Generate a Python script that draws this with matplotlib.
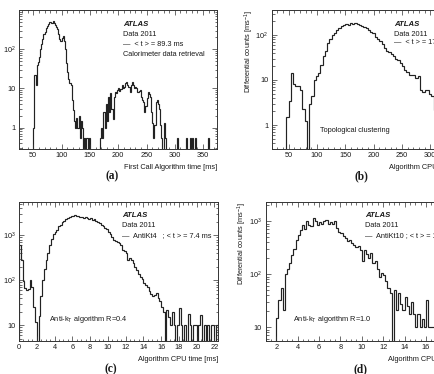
import numpy as np
import matplotlib
matplotlib.use('Agg')
import matplotlib.pyplot as plt
from matplotlib.ticker import (FixedLocator, FixedFormatter, MultipleLocator,
                               LogLocator, NullFormatter)

plt.rcParams['font.family'] = ['Liberation Sans', 'DejaVu Sans']
plt.rcParams['mathtext.fontset'] = 'custom'
plt.rcParams['mathtext.rm'] = 'Liberation Sans'
plt.rcParams['mathtext.it'] = 'Liberation Sans:italic'

# ---- (a) calorimeter data retrieval, 2 ms bins ----
a_bin = 2.0
a_peak1_start = 50
a_peak1 = [1.0, 22, 12, 40, 48, 65, 100, 135, 180, 240, 280, 340, 380, 450, 490,
           480, 470, 510, 460, 410, 370, 330, 240, 185, 165, 190, 215, 160, 100,
           45, 26, 17, 14, 12, 5, 2.8, 1.5, 1.0, 1.8, 1.0, 2.0, 0.55, 1.5, 1.0,
           0, 0.55, 0, 0.55, 0, 0.55]
a_peak2_start = 168
a_peak2 = [0.55, 1.0, 0.55, 2.5, 1.0, 4, 1.5, 6, 2.5, 7.5, 3, 1.7, 6, 8, 7.5, 9,
           10, 8.5, 9.5, 12, 10, 11, 13.5, 15, 12, 11, 8, 12, 15, 12, 10, 11, 10,
           8, 8.5, 9, 6, 5, 4.5, 2.5, 3.5, 5.6, 8, 7, 6, 2.5, 1.3, 0.55, 1.2, 4.5,
           5, 4, 3, 1.2, 0.55, 0, 1.3, 0.55]
a_tail_pos = [304, 320, 326, 330, 336, 358]
a_tail_val = [0.55, 0.55, 0.55, 0.55, 0.55, 0.55]

# ---- (b) topological clustering, 4 ms bins ----
b_bin = 4.0
b_start = 46
b_vals = [1.5, 3.5, 14, 8, 7.5, 7.5, 6, 2.3, 1.2, 0, 3, 4.5, 10, 12, 14, 22, 35,
          45, 65, 80, 100, 112, 130, 145, 162, 170, 175, 170, 180, 178, 182, 175,
          168, 160, 152, 140, 128, 118, 108, 92, 82, 75, 62, 52, 45, 42, 38, 34,
          30, 28, 24, 20, 17, 15, 13, 13, 13, 11, 12, 6, 5.5, 6, 6, 5, 4.5, 2.2, 3]

# ---- (c) AntiKt4, 0.2 ms bins ----
c_bin = 0.2
c_start = 0.0
c_vals = [600, 280, 95, 66, 62, 65, 100, 70, 26, 12, 0, 16, 44, 100, 180, 280,
          400, 600, 820, 1050, 1200, 1300, 1600, 1700, 2000, 2100, 2250, 2400,
          2500, 2750, 2700, 2800, 2700, 2650, 2500, 2550, 2450, 2600, 2400, 2350,
          2400, 2200, 2300, 2100, 2000, 1850, 1700, 1600, 1430, 1350, 1200, 1050,
          900, 800, 760, 700, 660, 600, 480, 460, 400, 290, 320, 280, 240, 200,
          170, 140, 120, 105, 86, 80, 70, 58, 50, 45, 47, 52, 40, 34, 26, 20, 0,
          22, 15, 10, 20, 10, 0, 10, 24, 10, 0, 10, 0, 18, 10, 0, 10, 10, 0, 10,
          17, 0, 10, 0, 10, 0, 10, 10, 0, 10]

# ---- (d) AntiKt10, 0.2 ms bins ----
d_bin = 0.2
d_start = 2.0
d_vals = [15, 33, 55, 21, 100, 125, 160, 230, 300, 450, 560, 690, 850, 700, 990,
          850, 800, 1140, 1000, 860, 950, 880, 1000, 1060, 900, 960, 880, 990,
          740, 640, 590, 520, 480, 420, 440, 385, 350, 330, 345, 290, 175, 290,
          240, 200, 250, 160, 180, 125, 90, 104, 95, 75, 56, 44, 0, 50, 21, 45,
          28, 21, 38, 25, 18, 30, 18, 10, 18, 10, 14, 10, 33, 10, 10, 10, 10]

HIST_COLOR = '#222222'
TXT = '#1a1a1a'
FS = 5.3


def draw_hist(ax, start, width, values):
    vals = np.array(values, dtype=float)
    vals[vals <= 0] = 1e-3
    edges = start + width * np.arange(len(vals) + 1)
    ax.stairs(vals, edges, baseline=1e-3, color=HIST_COLOR, lw=0.85)


def style(ax, xlim, ylim, xmajor, xminor, yticks, ylabels, ylab_x):
    ax.set_yscale('log')
    ax.set_xlim(xlim)
    ax.set_ylim(ylim)
    ax.xaxis.set_major_locator(MultipleLocator(xmajor))
    ax.xaxis.set_minor_locator(MultipleLocator(xminor))
    ax.yaxis.set_major_locator(FixedLocator(yticks))
    ax.yaxis.set_major_formatter(FixedFormatter(ylabels))
    ax.yaxis.set_minor_locator(LogLocator(base=10, subs=np.arange(2, 10) * 1.0, numticks=20))
    ax.yaxis.set_minor_formatter(NullFormatter())
    ax.tick_params(which='both', direction='in', top=True, right=True,
                   labelsize=FS, colors='#333333', labelcolor=TXT, width=0.5, pad=2.5)
    ax.tick_params(which='major', length=3.5)
    ax.tick_params(which='minor', length=1.8)
    for s in ax.spines.values():
        s.set_linewidth(0.7)
        s.set_color('#333333')
    ax.set_ylabel(r'Differential counts [ms$^{\mathregular{-1}}$]', fontsize=FS,
                  color=TXT, loc='top')
    ax.yaxis.set_label_coords(ylab_x, 1.0)


def legend_text(ax, x, ys, lines):
    ax.text(x, ys[0], 'ATLAS', transform=ax.transAxes, fontsize=FS + 0.3,
            fontweight='bold', fontstyle='italic', color=TXT)
    for y, s in zip(ys[1:], lines):
        ax.text(x, y, s, transform=ax.transAxes, fontsize=FS, color=TXT)


W, H = 434, 374
fig = plt.figure(figsize=(W / 100, H / 100), dpi=100)


def add_axes(left, right, top, bottom):
    return fig.add_axes([left / W, 1 - bottom / H, (right - left) / W, (bottom - top) / H])


# (a)
ax = add_axes(19.1, 217.3, 10, 149)
draw_hist(ax, a_peak1_start, a_bin, a_peak1)
draw_hist(ax, a_peak2_start, a_bin, a_peak2)
for p, v in zip(a_tail_pos, a_tail_val):
    draw_hist(ax, p, a_bin, [v])
style(ax, (25, 375), (0.285, 1000), 50, 10, [1, 10, 100], ['1', '10', r'$10^2$'], -0.1)
ax.set_xlabel('First Call Algorithm time [ms]', fontsize=FS, color=TXT, loc='right', labelpad=3)
legend_text(ax, 0.523, [0.885, 0.815, 0.743, 0.671],
            ['Data 2011', '—  < t > = 89.3 ms', 'Calorimeter data retrieval'])

# (b)
ax = add_axes(271.7, 469.8, 10, 149)
draw_hist(ax, b_start, b_bin, b_vals)
style(ax, (20, 370), (0.293, 359), 50, 10, [1, 10, 100], ['1', '10', r'$10^2$'], -0.078)
ax.set_xlabel('Algorithm CPU time [ms]', fontsize=FS, color=TXT, loc='right', labelpad=3)
legend_text(ax, 0.616, [0.887, 0.813, 0.755],
            ['Data 2011', '—  < t > = 172 ms'])
ax.text(0.242, 0.12, 'Topological clustering', transform=ax.transAxes, fontsize=FS, color=TXT)

# (c)
ax = add_axes(19, 218, 202, 341)
draw_hist(ax, c_start, c_bin, c_vals)
style(ax, (0, 22.4), (4.5, 5500), 2, 0.5, [10, 100, 1000], ['10', r'$10^2$', r'$10^3$'], -0.1)
ax.set_xlabel('Algorithm CPU time [ms]', fontsize=FS, color=TXT, loc='right', labelpad=3)
legend_text(ax, 0.52, [0.89, 0.818, 0.75],
            ['Data 2011', '—  AntiKt4   ; < t > = 7.4 ms'])
ax.text(0.151, 0.142, r'Anti-k$_\mathregular{T}$ algorithm R=0.4', transform=ax.transAxes,
        fontsize=FS, color=TXT)

# (d)
ax = add_axes(265.6, 468.7, 202, 341)
draw_hist(ax, d_start, d_bin, d_vals)
style(ax, (1, 20), (5.5, 2310), 2, 0.5, [10, 100, 1000], ['10', r'$10^2$', r'$10^3$'], -0.08)
ax.set_xlabel('Algorithm CPU time [ms]', fontsize=FS, color=TXT, loc='right', labelpad=3)
legend_text(ax, 0.488, [0.89, 0.818, 0.75],
            ['Data 2011', '—  AntiKt10 ; < t > = 13.1 ms'])
ax.text(0.136, 0.144, r'Anti-k$_\mathregular{T}$ algorithm R=1.0', transform=ax.transAxes,
        fontsize=FS, color=TXT)

# panel labels
for lab, (px, py) in zip(['(a)', '(b)', '(c)', '(d)'],
                         [(112, 176.5), (361, 176), (111, 369), (360, 369)]):
    fig.text(px / W, 1 - py / H, lab, ha='center', va='center', fontsize=8.3,
             fontweight='bold', family='Liberation Serif', color=TXT)

fig.savefig('out.png', dpi=100)
